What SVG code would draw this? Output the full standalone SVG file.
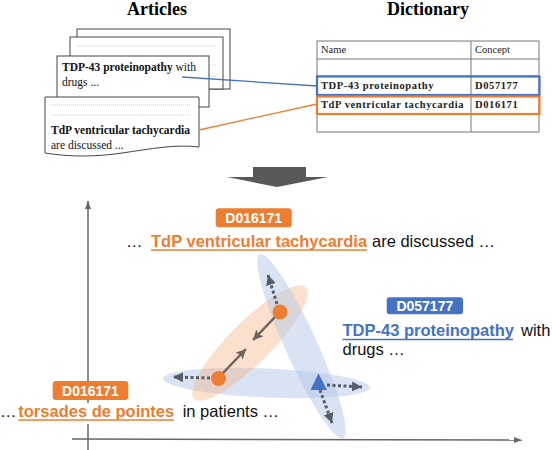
<svg xmlns="http://www.w3.org/2000/svg" width="552" height="450" viewBox="0 0 552 450">
<defs>
<style>
.title{font-family:"Liberation Serif",serif;font-weight:bold;font-size:18px;fill:#000}
.doc{fill:#fff;stroke:#444;stroke-width:1}
.dl{stroke:#aaa;stroke-width:0.6;stroke-dasharray:1 1}
.st{font-family:"Liberation Serif",serif;font-size:11.5px;fill:#111}
.tb{font-family:"Liberation Serif",serif;font-size:10.5px;fill:#222}
.tbb{font-weight:bold;letter-spacing:0.6px}
.grid{stroke:#777;stroke-width:1;fill:none}
.lab{font-family:"Liberation Sans",Arial,sans-serif;font-weight:bold;font-size:14px;fill:#fff;text-anchor:middle}
.sent{font-family:"Liberation Sans",Arial,sans-serif;font-size:16.5px;fill:#111}
.em{font-weight:bold}
.axis{stroke:#666;stroke-width:1.5;fill:none}
.solid{stroke:#6e625a;stroke-width:2.5;fill:none}
.dot{stroke:#565d68;stroke-width:3;stroke-dasharray:3 2.5;fill:none}
</style>
<marker id="ax" markerUnits="userSpaceOnUse" markerWidth="10" markerHeight="8" refX="8" refY="4" orient="auto"><path d="M0,1 L8,4 L0,7 Z" fill="#666"/></marker>
<marker id="sa" markerUnits="userSpaceOnUse" markerWidth="12" markerHeight="10" refX="10" refY="5" orient="auto"><path d="M0,0 L10,5 L0,10 L2.5,5 Z" fill="#6e625a"/></marker>
<marker id="da" markerUnits="userSpaceOnUse" markerWidth="12" markerHeight="12" refX="10" refY="6" orient="auto"><path d="M0,1 L10,6 L0,11 Z" fill="#565d68"/></marker>
</defs>
<rect width="552" height="450" fill="#fff"/>

<text class="title" x="157" y="15" text-anchor="middle">Articles</text>
<text class="title" x="428" y="15" text-anchor="middle">Dictionary</text>

<g id="articles">
<rect class="doc" x="77" y="29" width="153" height="60"/>
<rect class="doc" x="70" y="37" width="153" height="52"/>
<line class="dl" x1="77" y1="46" x2="217" y2="46"/>
<line class="dl" x1="77" y1="65" x2="217" y2="65"/>
<line class="dl" x1="77" y1="76" x2="217" y2="76"/>
<rect class="doc" x="57" y="56" width="152" height="51"/>
<text class="st" x="62" y="71"><tspan class="em">TDP-43 proteinopathy</tspan> with</text>
<text class="st" x="62" y="86">drugs ...</text>
<path class="doc" d="M45,97 H199 V147 C175,144 150,149 122,153 C95,157 70,157 45,153 Z"/>
<line class="dl" x1="51" y1="105" x2="191" y2="105"/>
<line class="dl" x1="51" y1="115" x2="191" y2="115"/>
<text class="st" x="51" y="134"><tspan class="em">TdP ventricular tachycardia</tspan></text>
<text class="st" x="51" y="149">are discussed ...</text>
</g>

<g id="dictionary">
<rect class="grid" x="317" y="41" width="222" height="91"/>
<line class="grid" x1="471" y1="41" x2="471" y2="132"/>
<line class="grid" x1="317" y1="59" x2="539" y2="59"/>
<line class="grid" x1="317" y1="76" x2="539" y2="76"/>
<line class="grid" x1="317" y1="95.5" x2="539" y2="95.5"/>
<line class="grid" x1="317" y1="113.5" x2="539" y2="113.5"/>
<text class="tb" x="321" y="53">Name</text>
<text class="tb" x="475" y="53">Concept</text>
<text class="tb tbb" x="321" y="89">TDP-43 proteinopathy</text>
<text class="tb tbb" x="475" y="89">D057177</text>
<text class="tb tbb" x="321" y="108">TdP ventricular tachycardia</text>
<text class="tb tbb" x="475" y="108">D016171</text>
<rect x="317" y="76.5" width="222.5" height="18.5" fill="none" stroke="#4472C4" stroke-width="2.2"/>
<rect x="317" y="96.5" width="222.5" height="17.5" fill="none" stroke="#ED7D31" stroke-width="2.2"/>
</g>

<g id="connectors">
<line x1="182" y1="77" x2="317" y2="86" stroke="#4472C4" stroke-width="1.3"/>
<line x1="199" y1="130" x2="317" y2="104" stroke="#ED7D31" stroke-width="1.3"/>
<path d="M253,167 H306 V177 H328 L277,187 L227,177 H253 Z" fill="#595959"/>
</g>

<g id="plot">
<line class="axis" x1="88" y1="450" x2="88" y2="201" marker-end="url(#ax)"/>
<line class="axis" x1="72" y1="439" x2="522" y2="440" marker-end="url(#ax)"/>

<ellipse cx="266.5" cy="383" rx="103.5" ry="14.5" transform="rotate(2.5 266.5 383)" fill="#B4C7E7" fill-opacity="0.5"/>
<ellipse cx="250" cy="343" rx="79" ry="21" transform="rotate(-45 250 343)" fill="#F4B183" fill-opacity="0.4"/>
<ellipse cx="301.5" cy="346.5" rx="101" ry="16" transform="rotate(65.6 301.5 346.5)" fill="#B4C7E7" fill-opacity="0.5"/>

<line class="solid" x1="276" y1="316" x2="253" y2="340" marker-end="url(#sa)"/>
<line class="solid" x1="222" y1="374" x2="246" y2="349" marker-end="url(#sa)"/>
<line class="dot" x1="277" y1="304" x2="268" y2="275" marker-end="url(#da)"/>
<line class="dot" x1="210" y1="378" x2="173" y2="377" marker-end="url(#da)"/>
<line class="dot" x1="327" y1="385" x2="362" y2="387" marker-end="url(#da)"/>
<line class="dot" x1="320" y1="390" x2="332" y2="423" marker-end="url(#da)"/>

<circle cx="280" cy="312" r="7.5" fill="#ED7D31"/>
<circle cx="218.5" cy="378.5" r="7.5" fill="#ED7D31"/>
<path d="M318.5,373.5 L327,390 L310.5,390 Z" fill="#4472C4"/>
</g>

<g id="sentence-top">
<rect x="215.7" y="208.3" width="76" height="19" rx="3" fill="#ED7D31"/>
<text class="lab" x="253.7" y="223">D016171</text>
<text class="sent" x="126" y="246.7">…</text>
<text class="sent em" x="151" y="246.7" style="fill:#ED7D31">TdP ventricular tachycardia</text>
<line x1="151" y1="250" x2="367" y2="250" stroke="#ED7D31" stroke-width="1.5"/>
<text class="sent" x="372" y="246.7">are discussed …</text>
</g>

<g id="sentence-right">
<rect x="386.7" y="297.3" width="76.3" height="17" rx="3" fill="#4472C4"/>
<text class="lab" x="424.8" y="311">D057177</text>
<text class="sent em" x="342.5" y="336" style="fill:#4472C4">TDP-43 proteinopathy</text>
<line x1="342.5" y1="339.5" x2="513" y2="339.5" stroke="#4472C4" stroke-width="1.5"/>
<text class="sent" x="521" y="336">with</text>
<text class="sent" x="342.5" y="355">drugs …</text>
</g>

<g id="sentence-bottom">
<rect x="0" y="403" width="285" height="21" fill="#fff"/>
<rect x="52.7" y="381" width="75.6" height="19" rx="3" fill="#ED7D31"/>
<text class="lab" x="90.5" y="395.5">D016171</text>
<text class="sent" x="0" y="416.7">…</text>
<text class="sent em" x="18.3" y="416.7" style="fill:#ED7D31">torsades de pointes</text>
<line x1="18.3" y1="420" x2="174" y2="420" stroke="#ED7D31" stroke-width="1.5"/>
<text class="sent" x="182.7" y="416.7">in patients …</text>
</g>
</svg>
